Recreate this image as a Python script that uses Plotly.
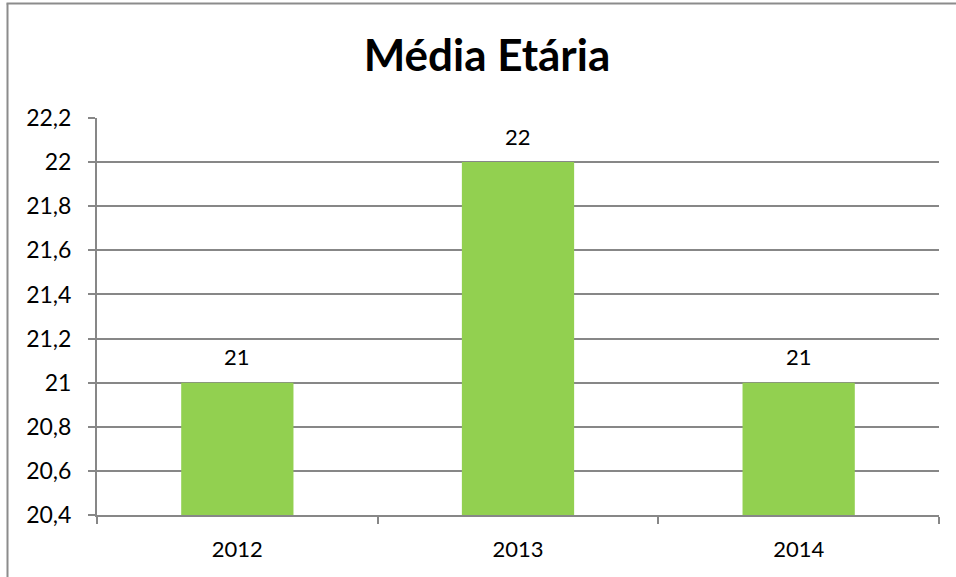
import plotly.graph_objects as go

# Average age per year
years = ["2012", "2013", "2014"]
mean_age = [21, 22, 21]

# Y-axis ticks (Portuguese decimal comma)
y_floor = 20.4
y_ticks = [20.4, 20.6, 20.8, 21.0, 21.2, 21.4, 21.6, 21.8, 22.0, 22.2]
y_tick_labels = ["20,4", "20,6", "20,8", "21", "21,2", "21,4", "21,6", "21,8", "22", "22,2"]

BAR_GREEN = "#92D050"
GRID_GRAY = "#878787"
FONT = "Lato"

# bars rise from the axis floor up to each value
fig = go.Figure(
    go.Bar(
        x=years,
        y=[v - y_floor for v in mean_age],
        base=y_floor,
        marker=dict(color=BAR_GREEN, line=dict(width=0)),
        width=0.4,
        hoverinfo="skip",
    )
)

# value labels above each bar
for i, v in enumerate(mean_age):
    fig.add_annotation(
        x=i, y=v, text=str(v), showarrow=False,
        yshift=26, font=dict(family=FONT, size=22, color="#000000"),
    )

# outer chart frame (left and top edges)
L, R, T, B = 97, 17, 118, 62
W, H = 956, 577
pw, ph = W - L - R, H - T - B
def px_x(px):
    return (px - L) / pw
def px_y(py):
    return (H - B - py) / ph

fig.add_shape(type="line", xref="paper", yref="paper",
              x0=px_x(7.5), x1=px_x(7.5), y0=px_y(3.5), y1=px_y(600),
              line=dict(color="#8c8c8c", width=2))
fig.add_shape(type="line", xref="paper", yref="paper",
              x0=px_x(6.5), x1=px_x(970), y0=px_y(3.5), y1=px_y(3.5),
              line=dict(color="#8c8c8c", width=2))

fig.update_layout(
    width=W, height=H,
    margin=dict(l=L, r=R, t=T, b=B),
    paper_bgcolor="white", plot_bgcolor="white",
    showlegend=False,
    title=dict(text="<b>Média Etária</b>", x=487 / W, xanchor="center",
               xref="container",
               y=1 - 56 / H, yanchor="middle",
               font=dict(family=FONT, size=44, color="#000000")),
    xaxis=dict(
        type="category",
        categoryorder="array", categoryarray=years,
        range=[-0.5, 2.5],
        showgrid=False,
        showline=True, linecolor=GRID_GRAY, linewidth=2,
        ticks="outside", tickson="boundaries", ticklen=7, tickwidth=2, tickcolor=GRID_GRAY,
        tickfont=dict(family=FONT, size=22, color="#000000"),
        ticklabelstandoff=14,
    ),
    yaxis=dict(
        range=[y_ticks[0], y_ticks[-1]],
        tickvals=y_ticks,
        ticktext=y_tick_labels,
        showgrid=True, gridcolor=GRID_GRAY, gridwidth=2,
        showline=True, linecolor=GRID_GRAY, linewidth=2,
        ticks="outside", ticklen=7, tickwidth=2, tickcolor=GRID_GRAY,
        tickfont=dict(family=FONT, size=23, color="#000000"),
        ticklabelstandoff=12,
        zeroline=False,
    ),
)

fig.write_html("out.html")
